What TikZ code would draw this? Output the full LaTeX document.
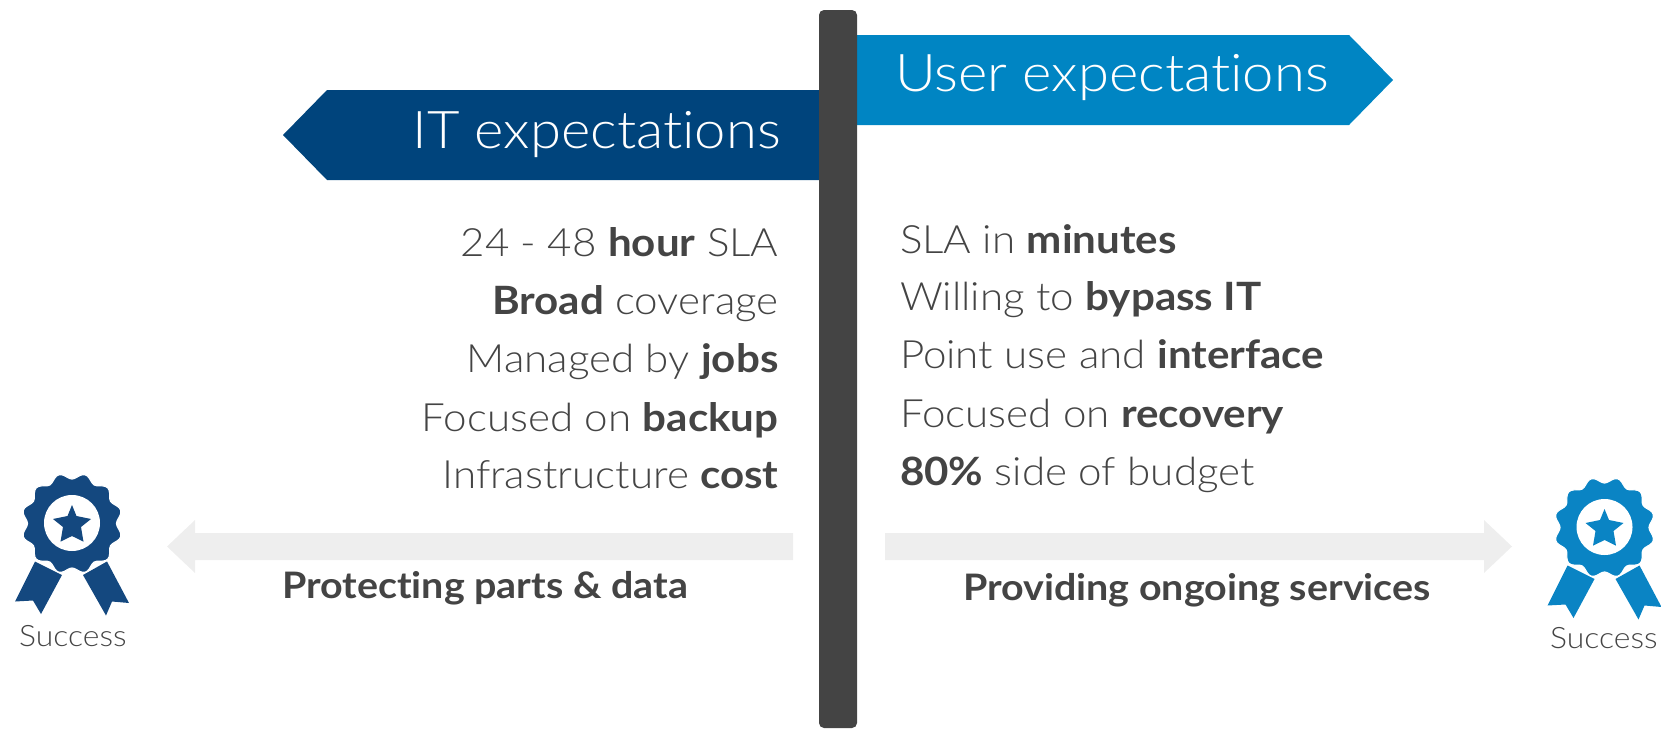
\documentclass[tikz,border=0pt]{standalone}
\usepackage{fontspec}
\setmainfont{Lato}[UprightFont=* Light,BoldFont=* Bold,FakeStretch=1.08,Ligatures=CommonOff]
\definecolor{itblue}{HTML}{00447C}
\definecolor{userblue}{HTML}{0085C3}
\definecolor{badgeblue}{HTML}{14487F}
\definecolor{badgecyan}{HTML}{0A84C4}
\definecolor{post}{HTML}{444444}
\definecolor{band}{HTML}{EEEEEE}
\tikzset{
  x=1pt,y=-1pt,
  txt/.style={inner sep=0pt,outer sep=0pt,text=post,font=\fontsize{39}{44}\selectfont},
  leftline/.style={txt,anchor=base east},
  rightline/.style={txt,anchor=base west},
  title/.style={inner sep=0pt,text=white,font=\fontsize{52}{56}\selectfont},
  caption/.style={inner sep=0pt,text=post,font=\bfseries\fontsize{36.5}{40}\selectfont,anchor=base west},
  succ/.style={inner sep=0pt,text=post,font=\fontsize{29.5}{32}\selectfont,anchor=base west},
  pics/badge/.style={code={
    \fill[#1] (15,601.5) -- (35,561.5) -- (62,575) -- (41,614) -- (33,600.5) -- cycle;
    \fill[#1] (83,575) -- (107,561.5) -- (129,603) -- (112,601.5) -- (106,615.5) -- cycle;
    \fill[#1,draw=white,line width=1.2pt] plot[domain=0:357,samples=120,variable=\t]
      ({72+(47.5+3*cos(12*\t+180))*cos(\t)},{523.5+(47.5+3*cos(12*\t+180))*sin(\t)}) -- cycle;
    \fill[white] (72,523) circle (28);
    \fill[#1] (72,505) -- (76.5,516) -- (91,519) -- (81,527) -- (83.5,541.7) -- (72,536)
      -- (60.5,541.7) -- (63,527) -- (53,519) -- (67.5,516) -- cycle;
  }}
}
\begin{document}
\begin{tikzpicture}
\useasboundingbox (0,0) rectangle (1661,728);
% arrows
\fill[itblue] (819,90) -- (327,90) -- (283,135) -- (327,180) -- (819,180) -- cycle;
\fill[userblue] (857,35) -- (1349,35) -- (1393,80) -- (1349,125) -- (857,125) -- cycle;
\fill[post,rounded corners=5pt] (819,10) rectangle (857,728);
\fill[band] (793,533) -- (195,533) -- (195,520) -- (167,546.5) -- (195,573) -- (195,560) -- (793,560) -- cycle;
\fill[band] (885,533) -- (1484,533) -- (1484,520) -- (1512,546.5) -- (1484,573) -- (1484,560) -- (885,560) -- cycle;
% titles
\node[title,anchor=base east] (ittitle) at (781,148) {IT expectations};
\node[title,anchor=base west] (usertitle) at (895,91) {User expectations};
% left list
\node[leftline] (l1) at (778.5,256) {24 - 48 \textbf{hour} SLA};
\node[leftline] (l2) at (778.5,314.5) {\textbf{Broad} coverage};
\node[leftline] (l3) at (778.5,372) {Managed by \textbf{jobs}};
\node[leftline] (l4) at (778.5,431) {Focused on \textbf{backup}};
\node[leftline] (l5) at (778.5,488) {Infrastructure \textbf{cost}};
% right list
\node[rightline] (r1) at (900,253) {SLA in \textbf{minutes}};
\node[rightline] (r2) at (900,310.5) {Willing to \textbf{bypass IT}};
\node[rightline] (r3) at (900,368.5) {Point use and \textbf{interface}};
\node[rightline] (r4) at (900,427) {Focused on \textbf{recovery}};
\node[rightline] (r5) at (900,485) {\textbf{80\%} side of budget};
% captions
\node[caption] (c1) at (282,598) {Protecting parts \& data};
\node[caption] (c2) at (963,600) {Providing ongoing services};
% badges
\pic at (0,0) {badge=badgeblue};
\pic at (1532.5,4) {badge=badgecyan};
\node[succ] (s1) at (19,646) {Success};
\node[succ] (s2) at (1550,648) {Success};
\end{tikzpicture}
\end{document}
